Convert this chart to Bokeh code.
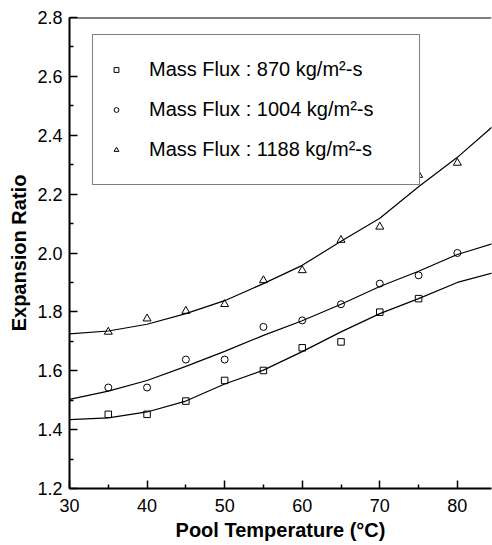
from bokeh.plotting import figure
from bokeh.models import (Range1d, FixedTicker, Legend, LegendItem, Span,
                          PrintfTickFormatter)
from bokeh.embed import file_html
from bokeh.resources import INLINE

# ---- data ----
temps_870 = [35, 40, 45, 50, 55, 60, 65, 70, 75]
ratio_870 = [1.452, 1.452, 1.497, 1.567, 1.601, 1.678, 1.698, 1.799, 1.845]

temps_1004 = [35, 40, 45, 50, 55, 60, 65, 70, 75, 80]
ratio_1004 = [1.543, 1.543, 1.638, 1.638, 1.749, 1.771, 1.826, 1.896, 1.924, 2.000]

temps_1188 = [35, 40, 45, 50, 55, 60, 65, 70, 75, 80]
ratio_1188 = [1.732, 1.777, 1.803, 1.826, 1.907, 1.941, 2.044, 2.089, 2.265, 2.306]

fit_temps = [30, 35, 40, 45, 50, 55, 60, 65, 70, 75, 80, 85]
fit_870 = [1.434, 1.440, 1.460, 1.497, 1.555, 1.602, 1.665, 1.732, 1.794, 1.845, 1.900, 1.935]
fit_1004 = [1.503, 1.531, 1.567, 1.615, 1.666, 1.720, 1.770, 1.826, 1.886, 1.938, 1.995, 2.035]
fit_1188 = [1.725, 1.735, 1.758, 1.794, 1.838, 1.896, 1.958, 2.040, 2.118, 2.225, 2.325, 2.440]

legend_labels = ["Mass Flux : 870 kg/m\u00b2-s",
                 "Mass Flux : 1004 kg/m\u00b2-s",
                 "Mass Flux : 1188 kg/m\u00b2-s"]

x_ticks = [30, 40, 50, 60, 70, 80]
x_minor = [35, 45, 55, 65, 75]
y_ticks = [1.2, 1.4, 1.6, 1.8, 2.0, 2.2, 2.4, 2.6, 2.8]
y_minor = [1.3, 1.5, 1.7, 1.9, 2.1, 2.3, 2.5, 2.7]

x_title = "Pool Temperature (\u00b0C)"
y_title = "Expansion Ratio"

FONT = "Liberation Sans"

p = figure(width=492, height=545, output_backend="svg", toolbar_location=None,
           x_range=Range1d(30, 84.4), y_range=Range1d(1.2, 2.8),
           min_border_left=69, min_border_right=1, min_border_top=17,
           min_border_bottom=57)
p.outline_line_color = None
p.xgrid.visible = False
p.ygrid.visible = False
p.background_fill_color = "white"
p.border_fill_color = "white"

# axes
p.xaxis.ticker = FixedTicker(ticks=x_ticks, minor_ticks=x_minor)
p.yaxis.ticker = FixedTicker(ticks=y_ticks, minor_ticks=y_minor)
p.xaxis.formatter = PrintfTickFormatter(format="%d")
p.yaxis.formatter = PrintfTickFormatter(format="%.1f")
for ax in (p.xaxis, p.yaxis):
    ax.axis_line_width = 2
    ax.axis_line_color = "black"
    ax.major_tick_in = 8
    ax.major_tick_out = 0
    ax.minor_tick_in = 4
    ax.minor_tick_out = 0
    ax.major_tick_line_width = 1.5
    ax.minor_tick_line_width = 1.5
    ax.major_tick_line_color = "black"
    ax.minor_tick_line_color = "black"
    ax.major_label_text_font = FONT
    ax.major_label_text_font_size = "18px"
    ax.major_label_text_color = "black"
    ax.axis_label_text_font = FONT
    ax.axis_label_text_font_size = "20px"
    ax.axis_label_text_font_style = "bold"
    ax.axis_label_text_color = "black"
p.xaxis.axis_label = x_title
p.yaxis.axis_label = y_title
p.xaxis.major_label_standoff = 10
p.yaxis.major_label_standoff = 7
p.xaxis.axis_label_standoff = 4
p.yaxis.axis_label_standoff = 4

p.add_layout(Span(location=2.8, dimension="width", line_color="black", line_width=2))

# fitted curves
for fy in (fit_870, fit_1004, fit_1188):
    p.line(fit_temps, fy, line_color="black", line_width=1.2)

r1 = p.scatter(temps_870, ratio_870, marker="square", size=6.5,
               fill_color=None, line_color="black", line_width=1)
r2 = p.scatter(temps_1004, ratio_1004, marker="circle", size=7,
               fill_color=None, line_color="black", line_width=1)
r3 = p.scatter(temps_1188, ratio_1188, marker="triangle", size=8,
               fill_color=None, line_color="black", line_width=1)

legend = Legend(items=[LegendItem(label=legend_labels[0], renderers=[r1]),
                       LegendItem(label=legend_labels[1], renderers=[r2]),
                       LegendItem(label=legend_labels[2], renderers=[r3])],
                location=(23, 303), margin=0, padding=17, spacing=5,
                glyph_width=12, glyph_height=35, label_height=35,
                label_width=253, label_standoff=27,
                label_text_font=FONT, label_text_font_size="20px",
                label_text_color="black",
                border_line_color="black", border_line_width=1.5,
                background_fill_color="white", background_fill_alpha=1.0)
p.add_layout(legend)

open("out.html", "w").write(file_html(p, INLINE))
